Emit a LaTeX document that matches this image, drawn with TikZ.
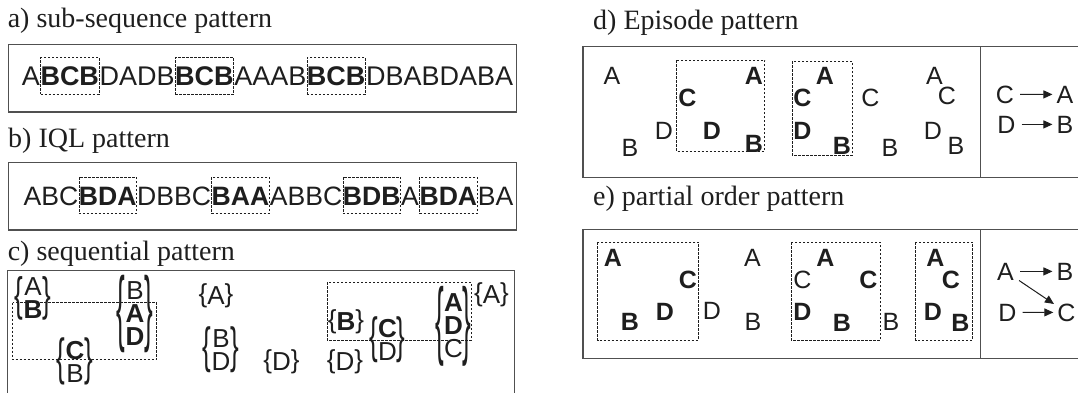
\documentclass[tikz,border=0pt]{standalone}
\usepackage{fontspec}
\usepackage{graphicx}
\setmainfont{Liberation Sans}
\newfontfamily\titlefont{Liberation Serif}
\usetikzlibrary{arrows.meta}

\definecolor{ink}{HTML}{1E1E1E}
\definecolor{framegray}{HTML}{505050}

% a set of items stacked vertically between stretched braces
\newcommand\brstack[2]{$\vcenter{\hbox{\scalebox{1}[#1]{\{}}}%
\vcenter{\baselineskip=23pt\lineskiplimit=-40pt\lineskip=0pt\halign{\hfil##\hfil\cr#2\crcr}}%
\vcenter{\hbox{\scalebox{1}[#1]{\}}}}$}

\tikzset{
  frame/.style={draw=framegray, line width=1.2pt},
  hl/.style={draw=ink, dash pattern=on 2.5pt off 1.5pt, line width=0.8pt},
  ttl/.style={anchor=base west, inner sep=0pt, text=ink, font=\titlefont\fontsize{28}{30}\selectfont},
  seg/.style={anchor=base west, inner sep=0pt, text=ink, font=\fontsize{27}{30}\selectfont},
  hseg/.style={seg, hl, text height=28pt, text depth=8.5pt, font=\fontsize{27}{30}\selectfont\bfseries},
  segb/.style={seg, font=\fontsize{26.6}{30}\selectfont},
  hsegb/.style={hseg, font=\fontsize{26.6}{30}\selectfont\bfseries},
  lt/.style={anchor=base, inner sep=0pt, text=ink, font=\fontsize{25}{30}\selectfont},
  ltb/.style={lt, font=\fontsize{25}{30}\selectfont\bfseries},
  stk/.style={inner sep=0pt, text=ink, font=\fontsize{26}{28}\selectfont},
  arr/.style={-{Triangle[length=9pt,width=8pt]}, line width=1pt, draw=ink, shorten <=6pt, shorten >=4pt},
}

\begin{document}
\begin{tikzpicture}[x=1pt,y=-1pt]
\useasboundingbox (0,0) rectangle (1078,392);

% ---------- a) sub-sequence pattern ----------
\node[ttl] (ta) at (7.6,27.5) {a) sub-sequence pattern};
\draw[frame] (8.3,44.8) rectangle (516.5,112);
\node[seg]  (a1) at (21.7,85.5) {A};
\node[hseg] (a2) at (a1.base east) {BCB};
\node[seg]  (a3) at (a2.base east) {DADB};
\node[hseg] (a4) at (a3.base east) {BCB};
\node[seg]  (a5) at (a4.base east) {AAAB};
\node[hseg] (a6) at (a5.base east) {BCB};
\node[seg]  (a7) at (a6.base east) {DBABDABA};

% ---------- b) IQL pattern ----------
\node[ttl] (tb) at (8,147) {b) IQL pattern};
\draw[frame] (8.8,162.7) rectangle (516.5,229.9);
\node[segb]  (b1) at (23.5,205) {ABC};
\node[hsegb] (b2) at (b1.base east) {BDA};
\node[segb]  (b3) at (b2.base east) {DBBC};
\node[hsegb] (b4) at (b3.base east) {BAA};
\node[segb]  (b5) at (b4.base east) {ABBC};
\node[hsegb] (b6) at (b5.base east) {BDB};
\node[segb]  (b7) at (b6.base east) {A};
\node[hsegb] (b8) at (b7.base east) {BDA};
\node[segb]  (b9) at (b8.base east) {BA};

% ---------- c) sequential pattern ----------
\node[ttl] (tc) at (7.6,260) {c) sequential pattern};
\draw[frame] (7.6,395) -- (7.6,270.3) -- (514.8,270.3) -- (514.8,395);
\draw[hl] (12.5,302.5) rectangle (156.5,359.5);
\draw[hl] (327,282) rectangle (471,340);
\node[stk] (c1)  at (33,298)    {\brstack{1.8}{A\cr\textbf{B}}};
\node[stk] (c2)  at (135,314)   {\brstack{3.2}{B\cr\textbf{A}\cr\textbf{D}}};
\node[stk] (c3)  at (75,361.5)  {\brstack{1.95}{\textbf{C}\cr B}};
\node[stk] (c4)  at (216,296)   {\brstack{1}{A}};
\node[stk] (c5)  at (221,350)   {\brstack{1.9}{B\cr D}};
\node[stk] (c6)  at (281.5,362) {\brstack{1}{D}};
\node[stk] (c7)  at (346,322)   {\brstack{1}{\textbf{B}}};
\node[stk] (c8)  at (345,362)   {\brstack{1}{D}};
\node[stk] (c9)  at (387.5,340) {\brstack{1.9}{\textbf{C}\cr D}};
\node[stk] (c10) at (453.5,326) {\brstack{3.3}{\textbf{A}\cr\textbf{D}\cr C}};
\node[stk] (c11) at (491.5,295) {\brstack{1}{A}};

% ---------- d) Episode pattern ----------
\node[ttl] (td) at (593,29) {d) Episode pattern};
\draw[frame] (1080,46.3) -- (583,46.3) -- (583,177.8) -- (1080,177.8);
\draw[frame] (980.5,46.3) -- (980.5,177.8);
\draw[hl] (676.6,60) rectangle (764.8,151);
\draw[hl] (792,61) rectangle (852,155);
\node[lt]  (d1)  at (612,84)      {A};
\node[lt]  (d2)  at (630,156)     {B};
\node[lt]  (d3)  at (664,139)     {D};
\node[ltb] (d4)  at (687.5,106.4) {C};
\node[ltb] (d5)  at (754,84)      {A};
\node[ltb] (d6)  at (712,139)     {D};
\node[ltb] (d7)  at (754,152.7)   {B};
\node[ltb] (d8)  at (802.5,106.4) {C};
\node[ltb] (d9)  at (825,84)      {A};
\node[ltb] (d10) at (802.5,139)   {D};
\node[ltb] (d11) at (842,154.4)   {B};
\node[lt]  (d12) at (870.5,106.4) {C};
\node[lt]  (d13) at (890,156)     {B};
\node[lt]  (d14) at (934.5,84)    {A};
\node[lt]  (d15) at (947,104.7)   {C};
\node[lt]  (d16) at (933,139)     {D};
\node[lt]  (d17) at (956,154.4)   {B};
\node[lt]  (dC) at (1005,103)   {C};
\node[lt]  (dA) at (1065,103)   {A};
\node[lt]  (dD) at (1006.5,133) {D};
\node[lt]  (dB) at (1065,133)   {B};
\draw[arr] (dC) -- (dA);
\draw[arr] (dD) -- (dB);

% ---------- e) partial order pattern ----------
\node[ttl] (te) at (593,205.5) {e) partial order pattern};
\draw[frame] (1080,229.5) -- (583,229.5) -- (583,358.8) -- (1080,358.8);
\draw[frame] (980.5,229.5) -- (980.5,358.8);
\draw[hl] (597.7,242) rectangle (698.5,340);
\draw[hl] (791,242) rectangle (880,340);
\draw[hl] (915.8,242) rectangle (972.4,340);
\node[ltb] (e1)  at (613,266)     {A};
\node[ltb] (e2)  at (688,288)     {C};
\node[ltb] (e3)  at (665,320.4)   {D};
\node[ltb] (e4)  at (630,330.7)   {B};
\node[lt]  (e5)  at (712,319.7)   {D};
\node[lt]  (e6)  at (752.5,266)   {A};
\node[lt]  (e7)  at (753,330.7)   {B};
\node[lt]  (e8)  at (802.5,288)   {C};
\node[ltb] (e9)  at (825.5,266)   {A};
\node[ltb] (e10) at (868.5,288)   {C};
\node[ltb] (e11) at (802.5,320)   {D};
\node[ltb] (e12) at (842,331)     {B};
\node[lt]  (e13) at (891,330.7)   {B};
\node[ltb] (e14) at (935.5,266)   {A};
\node[ltb] (e15) at (951,288)     {C};
\node[ltb] (e16) at (933,320)     {D};
\node[ltb] (e17) at (960.5,331)   {B};
\node[lt]  (eA) at (1005.5,280) {A};
\node[lt]  (eB) at (1065,280)   {B};
\node[lt]  (eD) at (1007.5,321) {D};
\node[lt]  (eC) at (1066.5,321) {C};
\draw[arr] (eA) -- (eB);
\draw[arr] (eA) -- (eC);
\draw[arr] (eD) -- (eC);
\end{tikzpicture}
\end{document}
